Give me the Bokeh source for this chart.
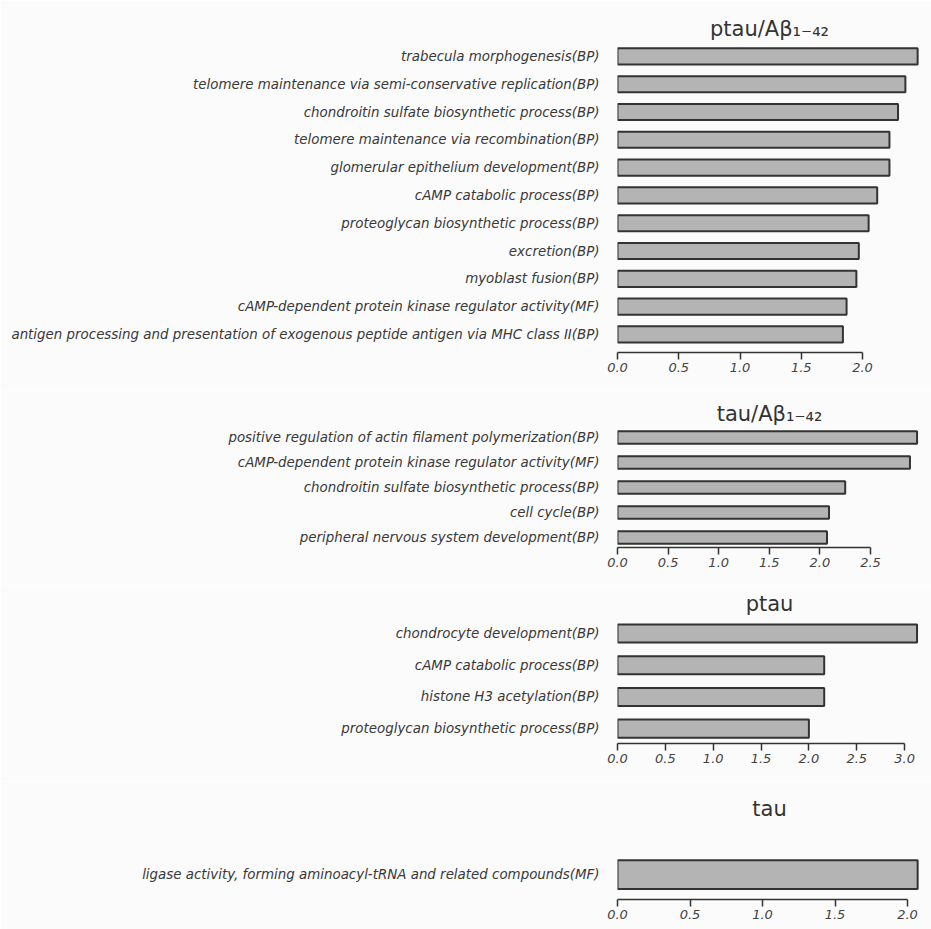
from bokeh.plotting import figure
from bokeh.layouts import column
from bokeh.models import FixedTicker, Range1d, NumeralTickFormatter
from bokeh.embed import file_html
from bokeh.resources import INLINE

# Enriched GO terms per biomarker, values are -log10(p)
terms_ptau_ab = [
    "trabecula morphogenesis(BP)",
    "telomere maintenance via semi-conservative replication(BP)",
    "chondroitin sulfate biosynthetic process(BP)",
    "telomere maintenance via recombination(BP)",
    "glomerular epithelium development(BP)",
    "cAMP catabolic process(BP)",
    "proteoglycan biosynthetic process(BP)",
    "excretion(BP)",
    "myoblast fusion(BP)",
    "cAMP-dependent protein kinase regulator activity(MF)",
    "antigen processing and presentation of exogenous peptide antigen via MHC class II(BP)",
]
vals_ptau_ab = [2.45, 2.35, 2.29, 2.22, 2.22, 2.12, 2.05, 1.97, 1.95, 1.87, 1.84]

terms_tau_ab = [
    "positive regulation of actin filament polymerization(BP)",
    "cAMP-dependent protein kinase regulator activity(MF)",
    "chondroitin sulfate biosynthetic process(BP)",
    "cell cycle(BP)",
    "peripheral nervous system development(BP)",
]
vals_tau_ab = [2.96, 2.89, 2.25, 2.09, 2.07]

terms_ptau = [
    "chondrocyte development(BP)",
    "cAMP catabolic process(BP)",
    "histone H3 acetylation(BP)",
    "proteoglycan biosynthetic process(BP)",
]
vals_ptau = [3.13, 2.16, 2.16, 2.0]

terms_tau = [
    "ligase activity, forming aminoacyl-tRNA and related compounds(MF)",
]
vals_tau = [2.07]

titles = ["ptau/A\u03b2\u2081\u208b\u2084\u2082", "tau/A\u03b2\u2081\u208b\u2084\u2082", "ptau", "tau"]

W = 931
LEFT = 617
RIGHT = 10
BG = "#fbfbfb"
FONT = "DejaVu Sans"


def panel(title, terms, vals, x_end, axis_max, height, b_top, b_bottom,
          y_lo, y_hi, bar_h, title_gap=0):
    n = len(terms)
    ys = [n - 1 - i for i in range(n)]
    p = figure(width=W, height=height, output_backend="svg", toolbar_location=None,
               x_range=Range1d(0, x_end), y_range=Range1d(y_lo, y_hi),
               min_border_left=LEFT, min_border_right=RIGHT,
               min_border_top=b_top, min_border_bottom=b_bottom,
               title=title)
    p.hbar(y=ys, right=vals, left=0, height=bar_h,
           fill_color="#b4b4b4", line_color="#333333", line_width=2)
    p.outline_line_color = None
    p.grid.visible = False
    p.background_fill_color = BG
    p.border_fill_color = BG

    p.title.align = "center"
    p.title.text_font = FONT
    p.title.text_font_size = "21px"
    p.title.text_font_style = "normal"
    p.title.text_color = "#333333"
    p.title.standoff = title_gap

    ya = p.yaxis[0]
    ya.ticker = FixedTicker(ticks=ys)
    ya.major_label_overrides = {y: t for y, t in zip(ys, terms)}
    ya.axis_line_color = None
    ya.major_tick_line_color = None
    ya.minor_tick_line_color = None
    ya.major_label_standoff = 12
    ya.major_label_text_font = FONT
    ya.major_label_text_font_style = "italic"
    ya.major_label_text_font_size = "13.4px"
    ya.major_label_text_color = "#383838"

    xa = p.xaxis[0]
    ticks = [i * 0.5 for i in range(int(round(axis_max / 0.5)) + 1)]
    xa.ticker = FixedTicker(ticks=ticks)
    xa.bounds = (0, axis_max)
    xa.formatter = NumeralTickFormatter(format="0.0")
    xa.axis_line_color = "#333333"
    xa.axis_line_width = 1.5
    xa.major_tick_line_color = "#333333"
    xa.major_tick_line_width = 1.5
    xa.major_tick_in = 0
    xa.major_tick_out = 7
    xa.minor_tick_line_color = None
    xa.major_label_standoff = 3
    xa.major_label_text_font = FONT
    xa.major_label_text_font_style = "italic"
    xa.major_label_text_font_size = "13px"
    xa.major_label_text_color = "#444444"
    return p


plot_w = W - LEFT - RIGHT
p1 = panel(titles[0], terms_ptau_ab, vals_ptau_ab, plot_w / 122.5, 2.0,
           390, 42, 38, -0.65, 10.5, 0.58, title_gap=4)
p2 = panel(titles[1], terms_tau_ab, vals_tau_ab, plot_w / 101.2, 2.5,
           195, 35, 38, -0.4, 4.48, 0.5)
p3 = panel(titles[2], terms_ptau, vals_ptau, plot_w / 95.7, 3.0,
           196, 30, 38, -0.47, 3.57, 0.57)
p4 = panel(titles[3], terms_tau, vals_tau, plot_w / 145.0, 2.0,
           148, 39, 30, -0.52, 1.126, 0.6)

layout = column(p1, p2, p3, p4, spacing=0)
open("out.html", "w").write(file_html(layout, INLINE))
